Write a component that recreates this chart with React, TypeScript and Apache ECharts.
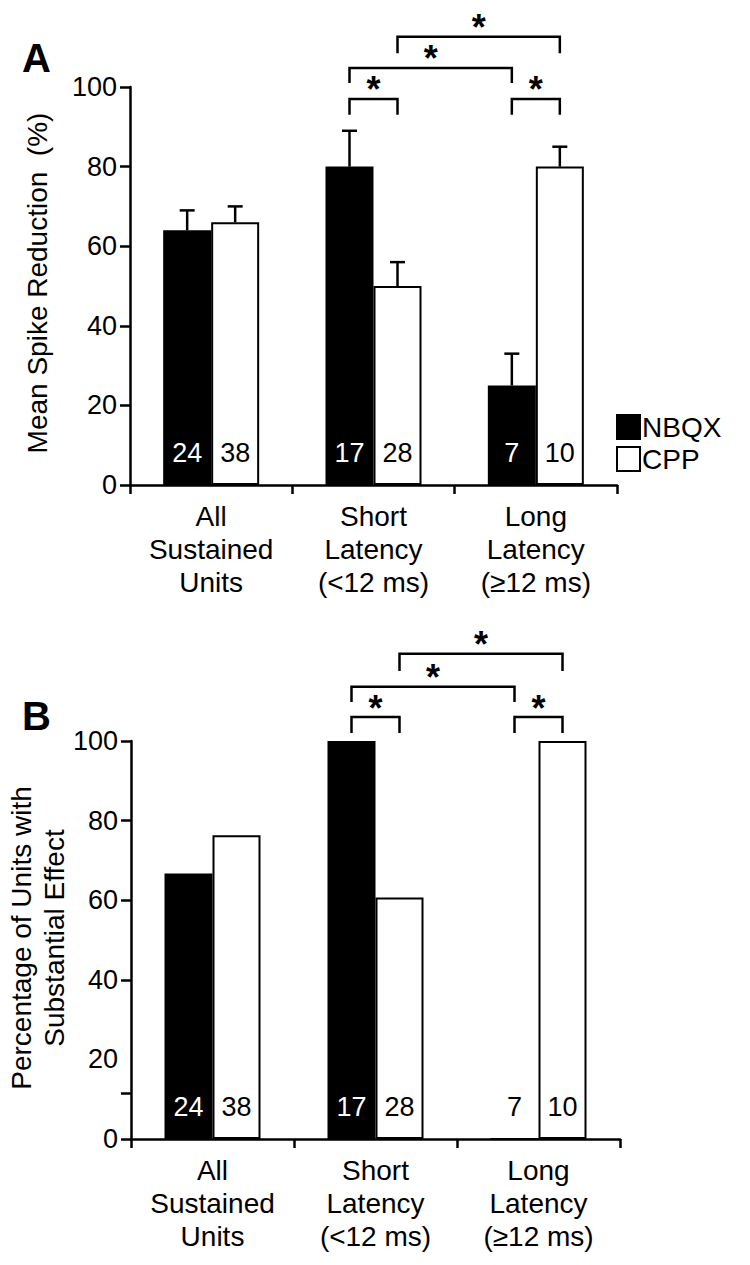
import React, { useEffect, useRef } from "react";
import * as echarts from "echarts";

const categories = ["All\nSustained\nUnits", "Short\nLatency\n(<12 ms)", "Long\nLatency\n(≥12 ms)"];
const seriesNames = ["NBQX", "CPP"];
const countsNBQX = [24, 17, 7];
const countsCPP = [38, 28, 10];
// Panel A: mean spike reduction (%) and upper ends of error bars
const meanNBQX = [64, 80, 25];
const meanCPP = [66, 50, 80];
const errTopNBQX = [69, 89, 33];
const errTopCPP = [70, 56, 85];
// Panel B: percentage of units with substantial effect
const pctNBQX = [66.7, 100, 0];
const pctCPP = [76.3, 60.7, 100];
const yTickValuesB = [0, 11.5, 40, 60, 80, 100];
// brackets: [cat1, side1, cat2, side2, barValue, legValue]
const bracketsA = [
  [1, -1, 1, 1, 97, 93],
  [2, -1, 2, 1, 97, 93],
  [1, -1, 2, -1, 104.8, 101],
  [1, 1, 2, 1, 112.6, 108.5],
];
const bracketsB = [
  [1, -1, 1, 1, 106, 102],
  [2, -1, 2, 1, 106, 102],
  [1, -1, 2, -1, 113.6, 109.8],
  [1, 1, 2, 1, 121.9, 117.6],
];

const FONT = "Liberation Sans, Arial, Helvetica, sans-serif";
const BAR_W = 48;
const HALF = BAR_W / 2;
const LW = 2.5;

function errorSeries(gridIdx: number, tops: number[], vals: number[], side: number) {
  return {
    type: "custom",
    xAxisIndex: gridIdx,
    yAxisIndex: gridIdx,
    z: 5,
    data: tops.map((t, i) => [i, vals[i], t]),
    renderItem: (params: any, api: any) => {
      const c = api.value(0);
      const p0 = api.coord([c, api.value(1)]);
      const p1 = api.coord([c, api.value(2)]);
      const x = p0[0] + side * HALF;
      return {
        type: "group",
        children: [
          { type: "line", shape: { x1: x, y1: p0[1], x2: x, y2: p1[1] }, style: { stroke: "#000", lineWidth: LW } },
          { type: "line", shape: { x1: x - 7.5, y1: p1[1], x2: x + 7.5, y2: p1[1] }, style: { stroke: "#000", lineWidth: LW } },
        ],
      };
    },
  };
}

function countSeries(gridIdx: number, counts: number[], vals: number[], side: number, dark: boolean) {
  return {
    type: "custom",
    xAxisIndex: gridIdx,
    yAxisIndex: gridIdx,
    z: 6,
    data: counts.map((c, i) => [i, 0, c]),
    renderItem: (params: any, api: any) => {
      const i = api.value(0);
      const p = api.coord([i, 0]);
      const white = dark && vals[i] > 0;
      return {
        type: "text",
        x: p[0] + side * HALF,
        y: p[1] - 32,
        style: {
          text: String(api.value(2)),
          fill: white ? "#fff" : "#000",
          font: `27px ${FONT}`,
          align: "center",
          verticalAlign: "middle",
        },
      };
    },
  };
}

function bracketSeries(gridIdx: number, brackets: number[][]) {
  return {
    type: "custom",
    xAxisIndex: gridIdx,
    yAxisIndex: gridIdx,
    z: 6,
    clip: false,
    data: brackets,
    renderItem: (params: any, api: any) => {
      const c1 = api.value(0), s1 = api.value(1), c2 = api.value(2), s2 = api.value(3);
      const top = api.value(4), leg = api.value(5);
      const p1 = api.coord([c1, top]);
      const p2 = api.coord([c2, top]);
      const yLeg = api.coord([c1, leg])[1];
      const x1 = p1[0] + s1 * HALF;
      const x2 = p2[0] + s2 * HALF;
      const yTop = p1[1];
      return {
        type: "group",
        children: [
          {
            type: "polyline",
            shape: { points: [[x1, yLeg], [x1, yTop], [x2, yTop], [x2, yLeg]] },
            style: { stroke: "#000", lineWidth: LW, fill: null },
          },
          {
            type: "text",
            x: (x1 + x2) / 2,
            y: yTop - 9,
            style: { text: "*", fill: "#000", font: `bold 36px ${FONT}`, align: "center", verticalAlign: "middle" },
          },
        ],
      };
    },
  };
}

function barSeries(gridIdx: number, name: string, vals: number[], dark: boolean) {
  return {
    type: "bar",
    name,
    xAxisIndex: gridIdx,
    yAxisIndex: gridIdx,
    barWidth: BAR_W,
    barGap: "0%",
    data: vals,
    itemStyle: { color: dark ? "#000" : "#fff", borderColor: "#000", borderWidth: 2 },
  };
}

export default function App() {
  const ref = useRef<HTMLDivElement>(null);
  useEffect(() => {
    document.body.style.margin = "0";
    const chart = echarts.init(ref.current!, null, { renderer: "svg" });
    const axisLine = { show: true, lineStyle: { color: "#000", width: LW } };
    const xAxisCommon = {
      type: "category",
      data: categories,
      axisLine,
      axisTick: { show: true, length: 9, lineStyle: { color: "#000", width: LW } },
      axisLabel: { color: "#000", fontSize: 28, fontFamily: FONT, lineHeight: 33, margin: 15, interval: 0 },
    };
    const yAxisCommon = {
      type: "value",
      min: 0,
      max: 100,
      interval: 20,
      splitLine: { show: false },
      axisLine,
      axisLabel: { color: "#000", fontSize: 27, fontFamily: FONT, margin: 13 },
    };
    chart.setOption({
      animation: false,
      backgroundColor: "#fff",
      grid: [
        { left: 130, top: 87, width: 487, height: 398 },
        { left: 131, top: 741, width: 489, height: 398 },
      ],
      xAxis: [
        { ...xAxisCommon, gridIndex: 0 },
        { ...xAxisCommon, gridIndex: 1 },
      ],
      yAxis: [
        { ...yAxisCommon, gridIndex: 0, axisTick: { show: true, length: 10, lineStyle: { color: "#000", width: LW } } },
        {
          ...yAxisCommon,
          gridIndex: 1,
          axisTick: { show: true, length: 10, customValues: yTickValuesB, lineStyle: { color: "#000", width: LW } },
        },
      ],
      legend: {
        data: seriesNames,
        orient: "vertical",
        left: 616,
        top: 413,
        padding: 0,
        itemWidth: 23,
        itemHeight: 24,
        itemGap: 4,
        icon: "rect",
        textStyle: { color: "#000", fontSize: 28, fontFamily: FONT, padding: [0, 0, 0, -3] },
      },
      graphic: [
        { type: "text", left: 22, top: 38, style: { text: "A", font: `bold 40px ${FONT}`, fill: "#000" } },
        { type: "text", left: 22, top: 696, style: { text: "B", font: `bold 40px ${FONT}`, fill: "#000" } },
        {
          type: "text",
          x: 37,
          y: 283,
          rotation: Math.PI / 2,
          style: { text: "Mean Spike Reduction  (%)", font: `28px ${FONT}`, fill: "#000", align: "center", verticalAlign: "middle" },
        },
        {
          type: "text",
          x: 38,
          y: 938,
          rotation: Math.PI / 2,
          style: {
            text: "Percentage of Units with\nSubstantial Effect",
            font: `28px ${FONT}`,
            lineHeight: 33,
            fill: "#000",
            align: "center",
            verticalAlign: "middle",
          },
        },
      ],
      series: [
        barSeries(0, "NBQX", meanNBQX, true),
        barSeries(0, "CPP", meanCPP, false),
        barSeries(1, "NBQX", pctNBQX, true),
        barSeries(1, "CPP", pctCPP, false),
        errorSeries(0, errTopNBQX, meanNBQX, -1),
        errorSeries(0, errTopCPP, meanCPP, 1),
        countSeries(0, countsNBQX, meanNBQX, -1, true),
        countSeries(0, countsCPP, meanCPP, 1, false),
        countSeries(1, countsNBQX, pctNBQX, -1, true),
        countSeries(1, countsCPP, pctCPP, 1, false),
        bracketSeries(0, bracketsA),
        bracketSeries(1, bracketsB),
      ],
    });
    return () => chart.dispose();
  }, []);
  return <div ref={ref} style={{ width: 750, height: 1265 }} />;
}
